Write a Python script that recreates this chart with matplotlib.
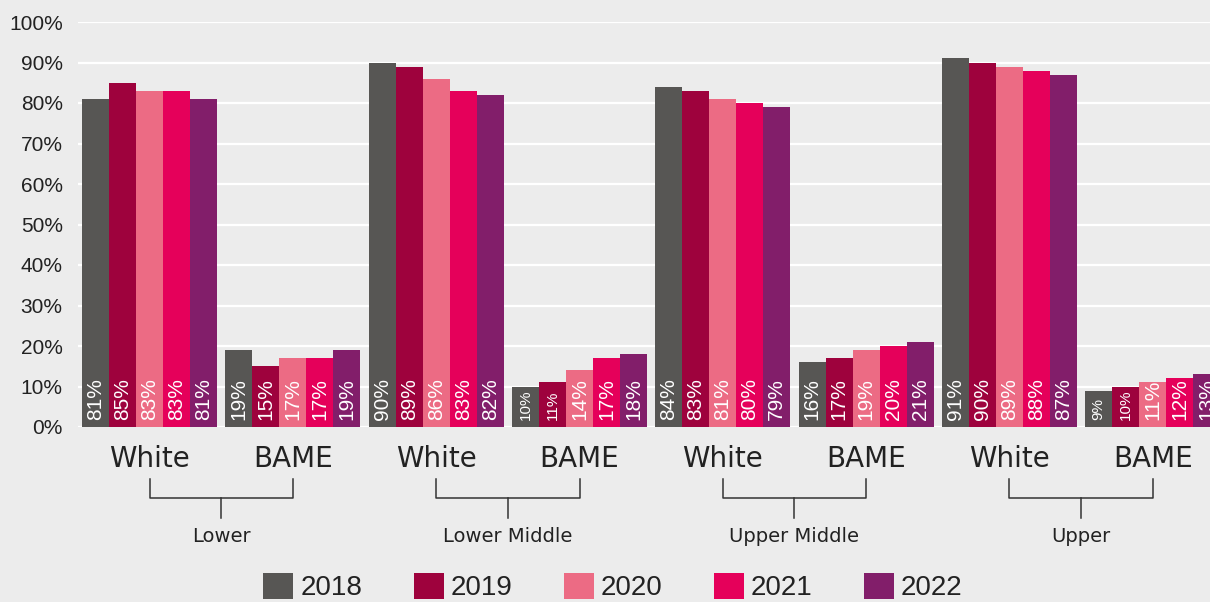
import matplotlib
matplotlib.use("Agg")
import matplotlib.pyplot as plt
import numpy as np
from matplotlib.patches import Patch

# Data
groups = ['Lower', 'Lower Middle', 'Upper Middle', 'Upper']
ethnicities = ['White', 'BAME']
years = ['2018', '2019', '2020', '2021', '2022']

lower_white = [81, 85, 83, 83, 81]
lower_bame = [19, 15, 17, 17, 19]
lower_middle_white = [90, 89, 86, 83, 82]
lower_middle_bame = [10, 11, 14, 17, 18]
upper_middle_white = [84, 83, 81, 80, 79]
upper_middle_bame = [16, 17, 19, 20, 21]
upper_white = [91, 90, 89, 88, 87]
upper_bame = [9, 10, 11, 12, 13]

series_by_category = [lower_white, lower_bame,
                      lower_middle_white, lower_middle_bame,
                      upper_middle_white, upper_middle_bame,
                      upper_white, upper_bame]

# labels drawn in a smaller font (category index, year index)
small_labels = {(3, 0), (3, 1), (7, 0), (7, 1)}

colors = ['#575654', '#9e023d', '#ec6b84', '#e5005a', '#821e6a']
bg = '#ececec'
text_color = '#222222'

plt.rcParams['font.family'] = ['Liberation Sans', 'DejaVu Sans']

fig = plt.figure(figsize=(12.1, 6.02), dpi=100, facecolor=bg)
ax = fig.add_axes([78 / 1210, 175 / 602, 1132 / 1210, 405 / 602])
ax.set_facecolor(bg)

values = np.array(series_by_category)  # shape (8, 5)
x = np.arange(len(series_by_category))
bar_w = 0.1884

for j, year in enumerate(years):
    offs = (j - 2) * bar_w
    ax.bar(x + offs, values[:, j], width=bar_w, color=colors[j], zorder=3)
    for i in range(len(x)):
        size = 11 if (i, j) in small_labels else 15
        ax.annotate(f'{values[i, j]}%', (x[i] + offs, 0), xytext=(0, 5),
                    textcoords='offset points', rotation=90,
                    ha='center', va='bottom', color='white',
                    fontsize=size, zorder=4)

ax.set_xlim(-0.5, 7.4)
ax.set_ylim(0, 100)
ax.set_yticks(np.arange(0, 101, 10))
ax.set_yticklabels([f'{v}%' for v in range(0, 101, 10)], fontsize=15,
                   color=text_color)
ax.yaxis.grid(True, color='white', linewidth=1.6, zorder=0)
ax.tick_params(axis='y', length=0, pad=11)
ax.set_xticks([])
for s in ax.spines.values():
    s.set_visible(False)

# category labels and brackets below the axis
tr = ax.get_xaxis_transform()
for i in range(len(x)):
    ax.text(x[i], -0.08, ethnicities[i % 2], transform=tr, ha='center',
            va='center', fontsize=20, color=text_color, clip_on=False,
            family='DejaVu Sans')

for g, name in enumerate(groups):
    a, b = 2 * g, 2 * g + 1
    kw = dict(transform=tr, color='#333333', linewidth=1.1, clip_on=False)
    ax.plot([a, a, b, b], [-0.128, -0.175, -0.175, -0.128], **kw)
    ax.plot([(a + b) / 2] * 2, [-0.175, -0.225], **kw)
    ax.text((a + b) / 2, -0.27, name, transform=tr, ha='center',
            va='center', fontsize=14, color=text_color, clip_on=False,
            family='DejaVu Sans')

handles = [Patch(facecolor=c, edgecolor='none') for c in colors]
fig.legend(handles, years, loc='center', bbox_to_anchor=(613 / 1210, 15 / 602),
           ncol=5, frameon=False, fontsize=20, handlelength=1.08,
           handleheight=1.08, handletextpad=0.25, columnspacing=1.85,
           borderpad=0, labelcolor=text_color)

fig.savefig('out.png', dpi=100, facecolor=bg)
